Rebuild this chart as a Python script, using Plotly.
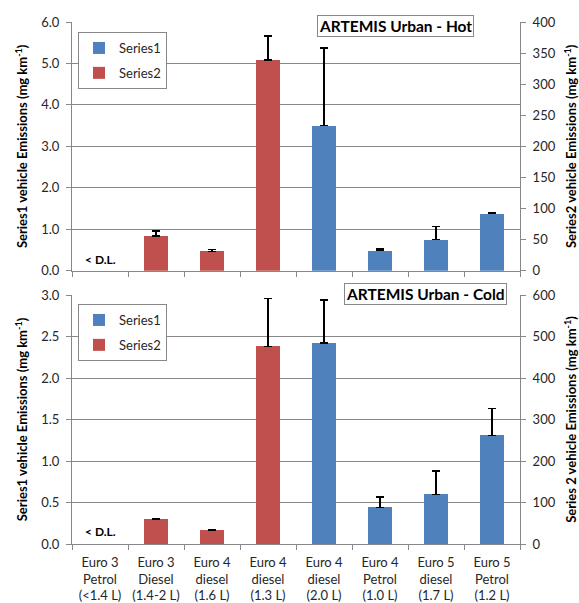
import plotly.graph_objects as go
from plotly.subplots import make_subplots

categories = [
    "Euro 3<br>Petrol<br>(&lt;1.4 L)",
    "Euro 3<br>Diesel<br>(1.4-2 L)",
    "Euro 4<br>diesel<br>(1.6 L)",
    "Euro 4<br>diesel<br>(1.3 L)",
    "Euro 4<br>diesel<br>(2.0 L)",
    "Euro 4<br>Petrol<br>(1.0 L)",
    "Euro 5<br>diesel<br>(1.7 L)",
    "Euro 5<br>Petrol<br>(1.2 L)",
]

# Hot (top panel)
hot_series2 = [None, 0.84, 0.47, 5.08, None, None, None, None]      # left axis
hot_series2_err = [None, 0.12, 0.04, 0.58, None, None, None, None]
hot_series1 = [None, None, None, None, 233, 32, 50, 92]             # right axis
hot_series1_err = [None, None, None, None, 125, 3, 21, 2]

# Cold (bottom panel)
cold_series2 = [None, 0.30, 0.17, 2.38, None, None, None, None]
cold_series2_err = [None, 0.01, 0.005, 0.58, None, None, None, None]
cold_series1 = [None, None, None, None, 484, 88, 120, 262]
cold_series1_err = [None, None, None, None, 104, 25, 56, 65]

BLUE = "#4F81BD"
RED = "#C0504D"
GRID = "#888888"
FONT = "Lato"
TXT = "#262626"

fig = make_subplots(rows=2, cols=1, specs=[[{"secondary_y": True}], [{"secondary_y": True}]])

W = 0.42
def bar(name, y, err, color, legend, group):
    return go.Bar(
        x=categories, y=y, name=name, marker=dict(color=color, line=dict(width=0)),
        width=W, offset=-W / 2, legend=legend, legendgroup=group + legend,
        error_y=dict(type="data", array=err, arrayminus=[0] * len(err), symmetric=False,
                     color="black", thickness=1.3, width=4),
        hoverinfo="x+y",
    )

fig.add_trace(bar("Series1", hot_series1, hot_series1_err, BLUE, "legend", "s1"), row=1, col=1, secondary_y=True)
fig.add_trace(bar("Series2", hot_series2, hot_series2_err, RED, "legend", "s2"), row=1, col=1, secondary_y=False)
fig.add_trace(bar("Series1", cold_series1, cold_series1_err, BLUE, "legend2", "s1"), row=2, col=1, secondary_y=True)
fig.add_trace(bar("Series2", cold_series2, cold_series2_err, RED, "legend2", "s2"), row=2, col=1, secondary_y=False)

H = 603
top_px, bot_px = 22, 544
L_px, R_px = 72, 520
span = bot_px - top_px
def py(y):
    return (bot_px - y) / span
def px(x):
    return (x - L_px) / (R_px - L_px)

tickfont = dict(family=FONT, size=13, color=TXT)
xcommon = dict(type="category", tickson="boundaries", ticks="outside", ticklen=5, tickcolor=GRID,
               showline=True, linecolor=GRID, linewidth=1, showgrid=False, tickfont=tickfont,
               range=[-0.5, 7.5], tickangle=0)
fig.update_layout(
    xaxis=dict(**xcommon, showticklabels=False, domain=[0, 1], anchor="y"),
    xaxis2=dict(**xcommon, domain=[0, 1], anchor="y3", ticklabelstandoff=6),
)

ytitle_font = dict(family=FONT, size=13, color="black")
left_common = dict(showline=True, linecolor=GRID, ticks="outside", ticklen=5, tickcolor=GRID,
                   showgrid=True, gridcolor=GRID, gridwidth=1, zeroline=False, tickfont=tickfont,
                   tickformat=".1f", ticklabelstandoff=4)
right_common = dict(showline=True, linecolor=GRID, ticks="outside", ticklen=5, tickcolor=GRID,
                    showgrid=False, zeroline=False, tickfont=tickfont, ticklabelstandoff=4)

fig.update_layout(
    yaxis=dict(**left_common, range=[0, 6], dtick=1, domain=[py(270.7), 1],
               title=dict(text="<b>Series1 vehicle Emissions (mg km<sup>-1</sup>)</b>", font=ytitle_font, standoff=10)),
    yaxis2=dict(**right_common, range=[0, 400], dtick=50,
                title=dict(text="<b>Series2 vehicle Emissions (mg km<sup>-1</sup>)</b>", font=ytitle_font, standoff=14)),
    yaxis3=dict(**left_common, range=[0, 3], dtick=0.5, domain=[0, py(295)],
                title=dict(text="<b>Series1 vehicle Emissions (mg km<sup>-1</sup>)</b>", font=ytitle_font, standoff=10)),
    yaxis4=dict(**right_common, range=[0, 600], dtick=100,
                title=dict(text="<b>Series 2 vehicle Emissions (mg km<sup>-1</sup>)</b>", font=ytitle_font, standoff=14)),
)

legend_common = dict(font=dict(family=FONT, size=13, color=TXT), bgcolor="white", bordercolor=GRID,
                     borderwidth=1, xref="paper", yref="paper", xanchor="left", yanchor="top",
                     tracegroupgap=5, traceorder="grouped", itemwidth=30)
fig.update_layout(
    legend=dict(**legend_common, x=px(78), y=py(32)),
    legend2=dict(**legend_common, x=px(78), y=py(304)),
)

title_font = dict(family=FONT, size=15.5, color="black")
fig.add_annotation(text="<b>ARTEMIS Urban - Hot</b>", xref="paper", yref="paper",
                   x=px(395.5), y=py(26), xanchor="center", yanchor="middle",
                   showarrow=False, font=title_font,
                   bgcolor="white", bordercolor=GRID, borderwidth=1, borderpad=1)
fig.add_annotation(text="<b>ARTEMIS Urban - Cold</b>", xref="paper", yref="paper",
                   x=px(425), y=py(294), xanchor="center", yanchor="middle",
                   showarrow=False, font=title_font,
                   bgcolor="white", bordercolor=GRID, borderwidth=1, borderpad=1)

dl_font = dict(family=FONT, size=12, color="black")
fig.add_annotation(text="<b>&lt; D.L.</b>", xref="x", yref="y", x=categories[0], y=0.26,
                   showarrow=False, font=dl_font)
fig.add_annotation(text="<b>&lt; D.L.</b>", xref="x2", yref="y3", x=categories[0], y=0.15,
                   showarrow=False, font=dl_font)

fig.update_layout(
    width=579, height=H, barmode="overlay", bargap=0,
    margin=dict(l=L_px, r=579 - R_px, t=top_px, b=H - bot_px, autoexpand=False),
    paper_bgcolor="white", plot_bgcolor="white",
    font=dict(family=FONT, color=TXT),
    showlegend=True,
)

fig.write_html("out.html", config={"displayModeBar": False},
               post_script="document.body.style.margin='0';")
